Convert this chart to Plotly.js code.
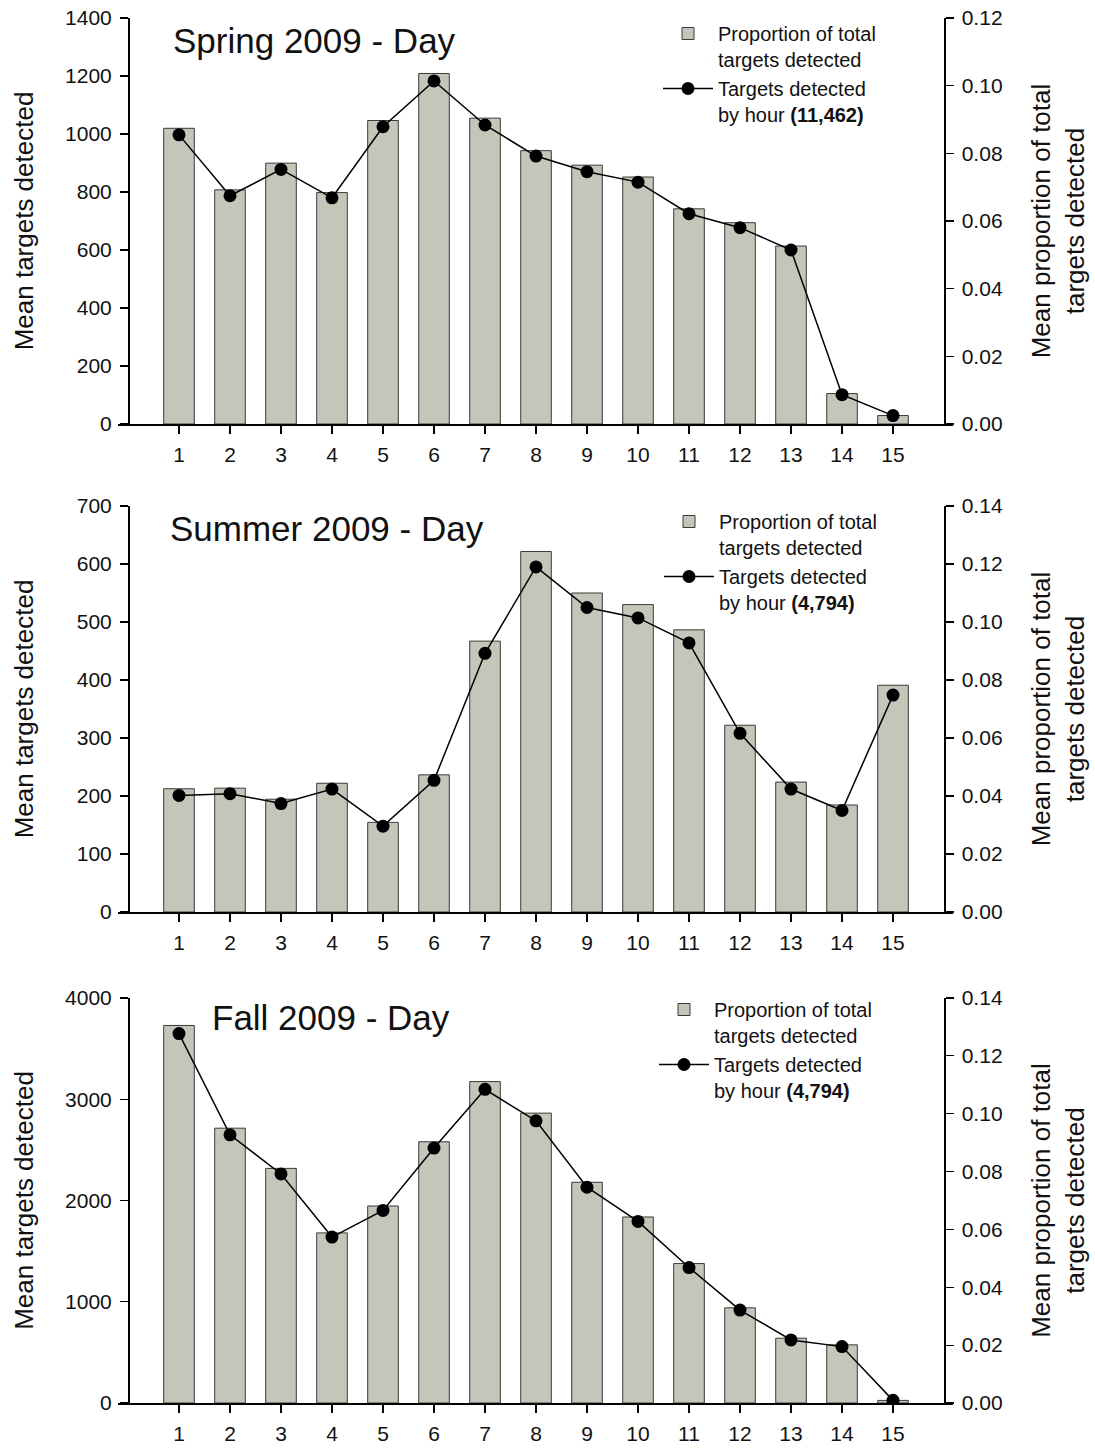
<!DOCTYPE html>
<html>
<head>
<meta charset="utf-8">
<script src="https://cdn.plot.ly/plotly-3.0.1.min.js"></script>
<style>
html,body{margin:0;padding:0;background:#fff;}
#chart{width:1095px;height:1449px;}
</style>
</head>
<body>
<div id="chart"></div>
<script>
// ---- Data ----
var hours = [1,2,3,4,5,6,7,8,9,10,11,12,13,14,15];

var springProp  = [0.0874,0.0692,0.0771,0.0684,0.0897,0.1036,0.0904,0.0808,0.0765,0.0730,0.0636,0.0595,0.0526,0.0090,0.0025];
var springCount = [997,787,878,780,1025,1183,1031,924,870,834,725,677,600,101,29];

var summerProp  = [0.0425,0.0427,0.0389,0.0444,0.0309,0.0473,0.0934,0.1243,0.1100,0.1060,0.0973,0.0644,0.0448,0.0369,0.0782];
var summerCount = [201,204,187,212,148,227,446,595,525,507,464,308,212,175,374];

var fallProp  = [0.1305,0.0950,0.0811,0.0588,0.0681,0.0903,0.1111,0.1002,0.0763,0.0643,0.0482,0.0329,0.0224,0.0201,0.0009];
var fallCount = [3649,2649,2262,1639,1902,2518,3098,2787,2131,1793,1338,918,623,557,26];

var panelTitles = ["Spring 2009 - Day", "Summer 2009 - Day", "Fall 2009 - Day"];
var totals = ["11,462", "4,794", "4,794"];
var barName = "Proportion of total<br>targets detected";
var lineNamePrefix = "Targets detected<br>by hour ";

var leftTitle = "Mean targets detected";
var rightTitle = "Mean proportion of total<br>targets detected";

var leftRanges = [[0,1400],[0,700],[0,4000]];
var leftDticks = [200,100,1000];
var rightRanges = [[0,0.12],[0,0.14],[0,0.14]];

// ---- Styling ----
var FONT = "Liberation Sans, Arial, Helvetica, sans-serif";
var TXT = "#111";
var W = 1095, H = 1449;
var mL = 118, mR = 142, mT = 18, mB = 46;
var plotW = W - mL - mR, plotH = H - mT - mB;
function px2x(px){ return (px - mL) / plotW; }
function px2y(py){ return (H - mB - py) / plotH; }

var panelPx = [[18,424],[506,912],[998,1403]]; // top,bottom in px
var titlePos = [[171,40],[168,528],[210,1017]];
var legendPos = [[658,14],[659,502],[654,990]];
var leftStandoff = [22, 34, 22];

var props = [springProp, summerProp, fallProp];
var counts = [springCount, summerCount, fallCount];

var data = [];
var layout = {
  width: W, height: H,
  margin: {l: mL, r: mR, t: mT, b: mB, pad: 0},
  paper_bgcolor: "#ffffff",
  plot_bgcolor: "rgba(0,0,0,0)",
  font: {family: FONT, color: TXT, size: 20},
  showlegend: true,
  annotations: [],
  bargap: 0
};

for (var p = 0; p < 3; p++) {
  var xName = p === 0 ? "x" : "x" + (p + 1);
  var baseY = "y" + (p === 0 ? "" : (2 * p + 1));
  var ovY = "y" + (2 * p + 2);
  var legName = p === 0 ? "legend" : "legend" + (p + 1);
  var dom = [px2y(panelPx[p][1]), px2y(panelPx[p][0])];

  data.push({
    type: "bar",
    x: hours, y: props[p],
    xaxis: xName, yaxis: baseY,
    width: 0.6,
    name: barName,
    legend: legName,
    marker: {color: "#c5c5ba", line: {color: "#3a3a3a", width: 1}},
    hoverinfo: "x+y"
  });
  data.push({
    type: "scatter", mode: "lines+markers",
    x: hours, y: counts[p],
    xaxis: xName, yaxis: ovY,
    name: lineNamePrefix + "<b>(" + totals[p] + ")</b>",
    legend: legName,
    line: {color: "#000", width: 1.5},
    marker: {color: "#000", size: 13, symbol: "circle"},
    hoverinfo: "x+y"
  });

  var xKey = p === 0 ? "xaxis" : "xaxis" + (p + 1);
  var baseKey = "yaxis" + (p === 0 ? "" : (2 * p + 1));
  var ovKey = "yaxis" + (2 * p + 2);

  layout[xKey] = {
    domain: [0, 1], anchor: baseY,
    range: [-0.196, 16.176],
    tickmode: "array", tickvals: hours, ticktext: hours.map(String),
    ticks: "outside", ticklen: 8, tickwidth: 1.2, tickcolor: "#000",
    ticklabelstandoff: 3,
    showline: true, linecolor: "#000", linewidth: 1.5,
    showgrid: false, zeroline: false,
    tickfont: {family: FONT, size: 21, color: TXT},
    fixedrange: true
  };
  layout[baseKey] = {
    domain: dom, anchor: "free", position: px2x(944), side: "right",
    range: rightRanges[p], dtick: 0.02, tick0: 0, tickformat: ".2f",
    ticks: "outside", ticklen: 8, tickwidth: 1.2, tickcolor: "#000",
    ticklabelstandoff: 4,
    showline: true, linecolor: "#000", linewidth: 1.5,
    showgrid: false, zeroline: false,
    tickfont: {family: FONT, size: 21, color: TXT},
    title: {text: rightTitle, font: {family: FONT, size: 26, color: TXT}, standoff: 30},
    fixedrange: true
  };
  layout[ovKey] = {
    overlaying: baseY, anchor: "free", position: px2x(128), side: "left",
    range: leftRanges[p], dtick: leftDticks[p], tick0: 0,
    ticks: "outside", ticklen: 8, tickwidth: 1.2, tickcolor: "#000",
    ticklabelstandoff: 4,
    showline: true, linecolor: "#000", linewidth: 1.5,
    showgrid: false, zeroline: false,
    tickfont: {family: FONT, size: 21, color: TXT},
    title: {text: leftTitle, font: {family: FONT, size: 26, color: TXT}, standoff: leftStandoff[p]},
    fixedrange: true
  };

  layout[legName] = {
    x: px2x(legendPos[p][0]), y: px2y(legendPos[p][1]),
    xanchor: "left", yanchor: "top",
    xref: "paper", yref: "paper",
    bgcolor: "rgba(0,0,0,0)", borderwidth: 0,
    font: {family: FONT, size: 20, color: TXT},
    itemwidth: 50, valign: "top", tracegroupgap: 0,
    traceorder: "normal"
  };

  layout.annotations.push({
    text: panelTitles[p], showarrow: false,
    xref: "paper", yref: "paper",
    x: px2x(titlePos[p][0]), y: px2y(titlePos[p][1]),
    xanchor: "left", yanchor: "middle",
    font: {family: FONT, size: 35, color: TXT}
  });
}

Plotly.newPlot("chart", data, layout, {displayModeBar: false, staticPlot: true});
</script>
</body>
</html>
